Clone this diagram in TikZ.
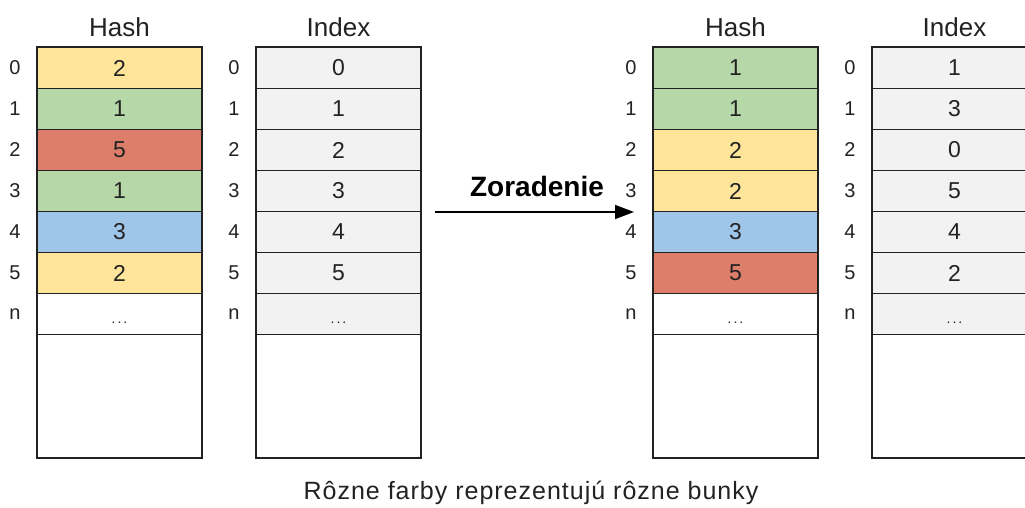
\documentclass[tikz,border=0pt]{standalone}
\usepackage{fontspec}
\setmainfont{Liberation Sans}
\usetikzlibrary{arrows.meta}
\definecolor{cy}{HTML}{FFE599}
\definecolor{cg}{HTML}{B6D7A8}
\definecolor{cr}{HTML}{DD7E6B}
\definecolor{cb}{HTML}{9FC5E8}
\definecolor{ci}{HTML}{F2F2F2}
\definecolor{ink}{HTML}{222222}
\newcommand\mydots{\raisebox{-9pt}[0pt][0pt]{\fontsize{14}{14}\selectfont .\hspace{2pt}.\hspace{2pt}.}}
\tikzset{
  cell/.style={draw=ink, line width=1.2pt, minimum width=165pt, minimum height=41pt,
    inner sep=0pt, outer sep=0pt, anchor=north west, font=\fontsize{23}{23}\selectfont, text=ink},
  coltitle/.style={font=\fontsize{26}{26}\selectfont, text=ink, inner sep=0pt},
  rowlab/.style={font=\fontsize{20}{20}\selectfont, text=ink, inner sep=0pt},
  frame/.style={draw=ink, line width=2pt},
}
\newcommand\mkcolumn[4]{%
  \node[coltitle] (#1title) at ({#2+82.5},27) {#3};
  \foreach \v/\c [count=\i from 0] in {#4} {
    \node[cell, fill=\c] (#1c\i) at (#2,{47.5+41*\i}) {\v};
  }
  \foreach \l [count=\i from 0] in {0,1,2,3,4,5,n} {
    \node[rowlab] (#1l\i) at ({#2-22},{68+41*\i}) {\l};
  }
  \node[cell, minimum height=123.5pt, fill=white] (#1big) at (#2,334.5) {};
  \draw[frame] (#1c0.north west) rectangle (#1big.south east);
}
\begin{document}
\begin{tikzpicture}[x=1pt,y=-1pt]
\useasboundingbox (0,0) rectangle (1025,508);
\clip (0,0) rectangle (1025,508);
\fill[white] (0,0) rectangle (1025,508);
\mkcolumn{lh}{37}{Hash}{2/cy,1/cg,5/cr,1/cg,3/cb,2/cy,\mydots/white}
\mkcolumn{li}{256}{Index}{0/ci,1/ci,2/ci,3/ci,4/ci,5/ci,\mydots/ci}
\mkcolumn{rh}{653}{Hash}{1/cg,1/cg,2/cy,2/cy,3/cb,5/cr,\mydots/white}
\mkcolumn{ri}{872}{Index}{1/ci,3/ci,0/ci,5/ci,4/ci,2/ci,\mydots/ci}
\coordinate (as) at (435,212);
\coordinate (ae) at (634,212);
\draw[line width=1.5pt, draw=black, -{Triangle[length=19pt,width=14pt]}] (as) -- (ae);
\node[font=\fontsize{28}{28}\selectfont\bfseries, text=black, inner sep=0pt] (zor) at (537,186) {Zoradenie};
\node[font=\fontsize{25}{25}\selectfont\addfontfeatures{LetterSpace=4}, text=ink, inner sep=0pt] (cap) at (531,493) {Rôzne farby reprezentujú rôzne bunky};
\end{tikzpicture}
\end{document}
